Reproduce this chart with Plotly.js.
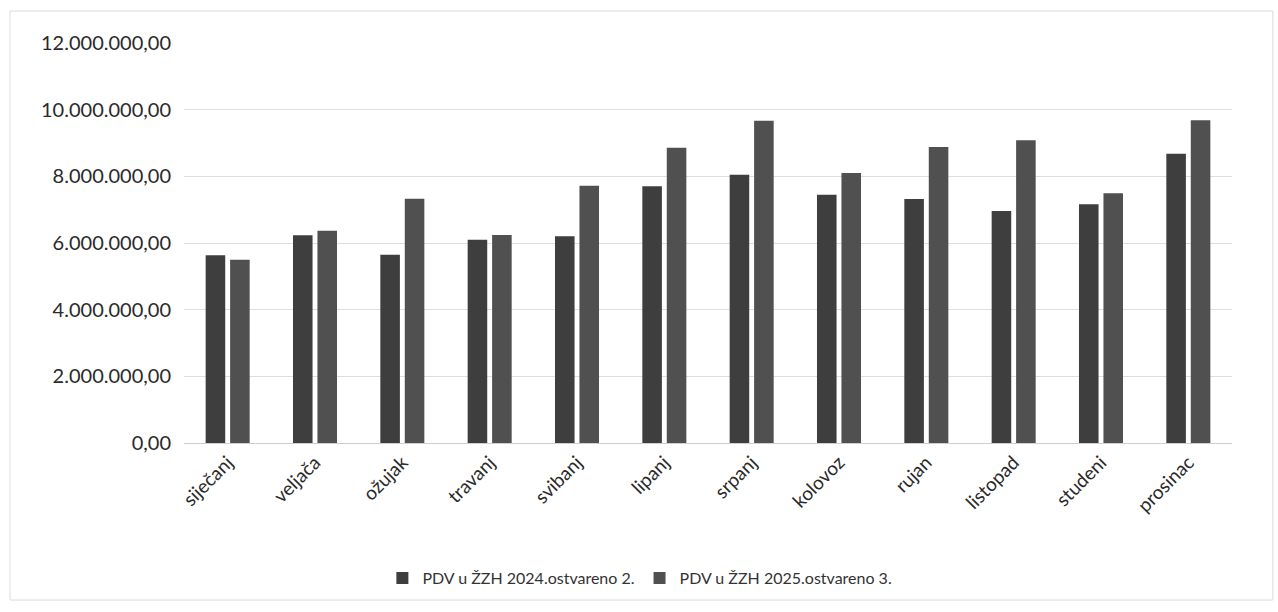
<!DOCTYPE html>
<html>
<head>
<meta charset="utf-8">
<script src="https://cdn.plot.ly/plotly-3.0.1.min.js"></script>
<style>
  html, body { margin: 0; padding: 0; background: #ffffff; }
  #chart { width: 1278px; height: 612px; }
</style>
</head>
<body>
<div id="chart"></div>
<script>
const months = ["siječanj", "veljača", "ožujak", "travanj", "svibanj", "lipanj",
                "srpanj", "kolovoz", "rujan", "listopad", "studeni", "prosinac"];
const series2024Name = "PDV u ŽZH 2024.ostvareno 2.";
const series2025Name = "PDV u ŽZH 2025.ostvareno 3.";
const values2024 = [5630000, 6230000, 5650000, 6100000, 6200000, 7700000,
                    8050000, 7450000, 7320000, 6960000, 7160000, 8680000];
const values2025 = [5500000, 6370000, 7330000, 6240000, 7720000, 8860000,
                    9670000, 8100000, 8880000, 9080000, 7490000, 9680000];
const yTicks = [0, 2000000, 4000000, 6000000, 8000000, 10000000, 12000000];

const fontFam = "Lato, 'Open Sans', 'Liberation Sans', sans-serif";

const traces = [
  { type: "bar", name: series2024Name, x: months, y: values2024,
    marker: { color: "#3e3e3e", line: { width: 0 } } },
  { type: "bar", name: series2025Name, x: months, y: values2025,
    marker: { color: "#505050", line: { width: 0 } } }
];

const layout = {
  width: 1278, height: 612,
  paper_bgcolor: "#ffffff", plot_bgcolor: "#ffffff",
  margin: { l: 184, r: 46, t: 43, b: 169, autoexpand: false },
  separators: ",.",
  barmode: "group",
  bargap: 0.44,
  bargroupgap: 0.2,
  showlegend: true,
  legend: {
    orientation: "h", x: 0.435, xanchor: "center", y: -0.3375, yanchor: "middle",
    font: { family: fontFam, size: 16, color: "#333333" },
    traceorder: "normal", bgcolor: "rgba(0,0,0,0)"
  },
  xaxis: {
    type: "category",
    automargin: false,
    tickangle: -45,
    tickfont: { family: fontFam, size: 19, color: "#2a2a2a" },
    showgrid: false, showline: true, linecolor: "#cfcfcf", linewidth: 1,
    ticks: "", fixedrange: true
  },
  yaxis: {
    automargin: false,
    range: [0, 12000000],
    tickvals: yTicks,
    tickformat: ",.2f",
    tickfont: { family: fontFam, size: 20, color: "#2a2a2a" },
    ticklabelstandoff: 12,
    showgrid: true, gridcolor: "#dedede", gridwidth: 1,
    zeroline: false, showline: false, ticks: "", ticklen: 0,
    fixedrange: true
  },
  shapes: [
    { type: "rect", xref: "paper", yref: "paper",
      x0: -0.166, x1: 1.039, y0: -0.3925, y1: 1.08,
      line: { color: "#dcdcdc", width: 1 }, fillcolor: "rgba(0,0,0,0)" }
  ]
};

Plotly.newPlot("chart", traces, layout, { displayModeBar: false, staticPlot: true });
</script>
</body>
</html>
